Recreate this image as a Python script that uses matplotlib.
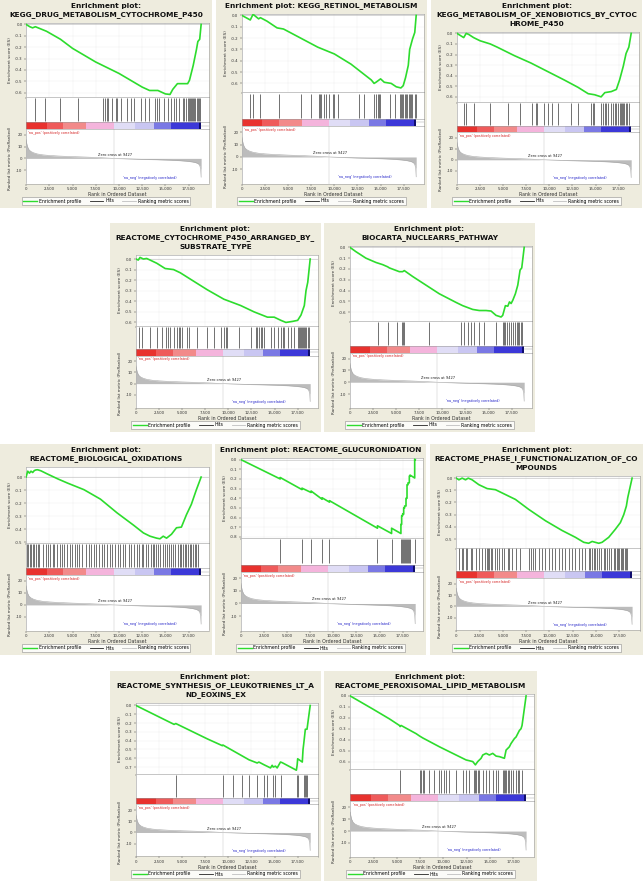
import numpy as np
import matplotlib.pyplot as plt
from matplotlib.patches import Rectangle
from matplotlib.lines import Line2D
from matplotlib.ticker import FuncFormatter, FormatStrFormatter

plt.rcParams['font.family'] = 'DejaVu Sans'
plt.rcParams['axes.unicode_minus'] = False

FIG_W, FIG_H = 643, 882
BG = '#eeecde'
N_GENES = 18854
ZERO_CROSS = 9427
X_MAX = 19750

# ranked list metric (same list for every panel)
metric_rank = [0, 60, 150, 300, 500, 800, 1200, 1800, 2500, 3500, 5000, 6500, 8000, 9427,
               11000, 12500, 14000, 15500, 16500, 17300, 17900, 18300, 18550, 18700, 18800, 18854]
metric_val = [16.0, 13.0, 10.0, 7.5, 6.0, 4.8, 3.8, 3.0, 2.5, 2.0, 1.5, 1.1, 0.6, 0.0,
              -0.4, -0.8, -1.1, -1.5, -1.9, -2.4, -3.0, -3.7, -4.6, -6.0, -9.0, -16.0]

# colour bar blocks under the hits
bar_edges = [0, 2200, 4000, 6500, 9427, 11700, 13800, 15600, 18600, 18854]
bar_colors = ['#e8322e', '#ef5b5b', '#f28a8a', '#f4b4dc', '#e0ddf6', '#c9c6f2', '#7a78e4', '#3c38d8', '#0e0c6e']

x_ticks = [0, 2500, 5000, 7500, 10000, 12500, 15000, 17500]

# ---- panel 1
p1_title = 'Enrichment plot:\nKEGG_DRUG_METABOLISM_CYTOCHROME_P450'
p1_rank = [0, 400, 700, 1000, 1900, 2200, 3700, 5000, 7500, 10000, 12500, 13300, 14200, 15000, 15500,
           15800, 16300, 17000, 17400, 17600, 18000, 18200, 18350, 18500, 18700, 18854]
p1_es = [0.0, -0.02, -0.03, -0.02, -0.05, -0.06, -0.13, -0.21, -0.33, -0.43, -0.55, -0.58, -0.58, -0.61, -0.615,
         -0.57, -0.52, -0.52, -0.52, -0.49, -0.36, -0.28, -0.22, -0.15, -0.13, 0.0]
p1_hits = [980, 2060, 3690, 5570, 8280, 8500, 8680, 8860, 9290, 9650, 9830, 10270, 10920, 11280, 11640,
           12360, 12800, 13270, 13880, 14060, 14350, 14890, 15260, 15620, 15980, 16160, 16520, 16880,
           17060, 17240, 17420, 17530, 17640, 17750, 17860, 17970, 18080, 18220, 18360, 18510, 18620, 18760]
p1_ylim = (-0.64, 0.01)

# ---- panel 2
p2_title = 'Enrichment plot: KEGG_RETINOL_METABOLISM'
p2_rank = [0, 900, 1200, 1800, 2000, 2700, 3800, 4500, 6350, 8200, 10000, 11800, 12900, 14000, 14300,
           14500, 15000, 15400, 16150, 16700, 17200, 17450, 17700, 18000, 18150, 18450, 18700, 18854]
p2_es = [0.0, -0.04, 0.01, -0.03, -0.02, -0.05, -0.11, -0.12, -0.2, -0.28, -0.34, -0.43, -0.5, -0.57, -0.6,
         -0.59, -0.56, -0.59, -0.6, -0.63, -0.64, -0.62, -0.55, -0.44, -0.3, -0.21, -0.15, 0.0]
p2_hits = [910, 1200, 2000, 3990, 6350, 7440, 8350, 8460, 8600, 8890, 9080, 9440, 9800, 9980, 10350,
           12710, 13250, 14340, 14520, 14700, 14810, 14960, 15970, 16520, 17060, 17240, 17350, 17460,
           17610, 17790, 17900, 18040, 18150, 18260, 18440, 18690, 18840]
p2_ylim = (-0.68, 0.01)

# ---- panel 3
p3_title = 'Enrichment plot:\nKEGG_METABOLISM_OF_XENOBIOTICS_BY_CYTOC\nHROME_P450'
p3_rank = [0, 730, 1000, 1270, 1800, 2500, 3600, 4350, 6200, 8000, 9800, 11600, 13100, 14200, 14900,
           15600, 16000, 16700, 17250, 17600, 18000, 18300, 18600, 18854]
p3_es = [0.0, -0.04, 0.0, -0.01, -0.04, -0.07, -0.10, -0.13, -0.21, -0.28, -0.36, -0.44, -0.51, -0.57, -0.58,
         -0.6, -0.56, -0.55, -0.53, -0.44, -0.31, -0.19, -0.13, 0.0]
p3_hits = [800, 1020, 1820, 3560, 5520, 6820, 8170, 8530, 8710, 9440, 9800, 10240, 10890, 12340, 13070,
           14520, 14770, 14880, 15610, 15790, 15970, 16150, 16340, 16700, 16880, 17060, 17240, 17420,
           17610, 17710, 17860, 17970, 18080, 18260, 18440, 18660]
p3_ylim = (-0.65, 0.01)

# ---- panel 4
p4_title = 'Enrichment plot:\nREACTOME_CYTOCHROME_P450_ARRANGED_BY_\nSUBSTRATE_TYPE'
p4_rank = [0, 250, 440, 800, 1160, 1530, 2250, 3160, 4070, 4790, 5880, 7700, 9510, 11330, 12780, 14230,
           14960, 15680, 16230, 16950, 17500, 17860, 18220, 18400, 18590, 18854]
p4_es = [0.0, -0.01, 0.015, 0.0, 0.005, -0.01, -0.04, -0.09, -0.10, -0.13, -0.19, -0.29, -0.38, -0.44, -0.50,
         -0.55, -0.55, -0.58, -0.60, -0.59, -0.58, -0.53, -0.44, -0.30, -0.22, 0.0]
p4_hits = [330, 690, 1530, 2250, 2800, 3270, 3450, 3700, 4070, 4430, 4610, 4790, 4970, 5520, 5770, 6600,
           7700, 8420, 9150, 9510, 9690, 9870, 11140, 12410, 12960, 13140, 13320, 13500, 13690, 13870,
           14590, 14960, 15320, 15680, 15860, 16040, 16410, 16770, 17130, 17500, 17600, 17710, 17860,
           17970, 18080, 18220, 18330, 18440, 18590, 18690]
p4_ylim = (-0.63, 0.035)

# ---- panel 5
p5_title = 'Enrichment plot:\nBIOCARTA_NUCLEARRS_PATHWAY'
p5_rank = [0, 650, 1730, 2820, 3540, 4080, 4260, 5340, 5700, 5880, 6790, 7870, 9670, 11480, 12200, 13280,
           14000, 14730, 15270, 15810, 16350, 16530, 16820, 17080, 17260, 17440, 17620, 17900, 18160,
           18410, 18590, 18854]
p5_es = [0.0, -0.04, -0.10, -0.14, -0.16, -0.18, -0.19, -0.225, -0.225, -0.215, -0.27, -0.33, -0.43, -0.51,
         -0.54, -0.575, -0.585, -0.585, -0.59, -0.63, -0.645, -0.63, -0.54, -0.545, -0.505, -0.52, -0.49,
         -0.43, -0.35, -0.21, -0.19, 0.0]
p5_hits = [3000, 4080, 5050, 5600, 5780, 5880, 8520, 12020, 12380, 12740, 13100, 13470, 14010, 14550,
           15810, 16530, 16710, 16820, 17000, 17260, 17440, 17620, 17870, 18050, 18190, 18340, 18480, 18630]
p5_ylim = (-0.68, 0.01)

# ---- panel 6
p6_title = 'Enrichment plot:\nREACTOME_BIOLOGICAL_OXIDATIONS'
p6_rank = [0, 100, 180, 360, 530, 710, 890, 1070, 1250, 1600, 2310, 3380, 4450, 6230, 8010, 9790, 11570,
           12640, 13350, 14060, 14420, 14770, 15130, 15660, 16200, 16730, 17270, 17800, 18160, 18330, 18854]
p6_es = [0.0, 0.025, 0.045, 0.03, 0.045, 0.035, 0.05, 0.055, 0.056, 0.048, 0.023, -0.013, -0.046, -0.097,
         -0.17, -0.275, -0.37, -0.43, -0.455, -0.47, -0.475, -0.455, -0.47, -0.44, -0.39, -0.385, -0.29,
         -0.21, -0.135, -0.10, 0.0]
p6_hits = [110, 250, 390, 530, 710, 890, 1070, 1250, 1420, 1780, 2140, 2310, 2600, 2850, 3030, 3380, 3670,
           3920, 4090, 4450, 4740, 4980, 5230, 5520, 5700, 6050, 6410, 6760, 6940, 7300, 7580, 7830, 8190,
           8440, 8720, 9080, 9260, 9610, 9860, 10150, 10430, 10680, 11040, 11290, 11570, 11930, 12210,
           12460, 12640, 12920, 13170, 13420, 13640, 13780, 13990, 14240, 14420, 14700, 14950, 15130,
           15420, 15660, 15840, 16090, 16310, 16550, 16730, 16910, 17090, 17270, 17440, 17620, 17800,
           17980, 18160, 18330, 18480]
p6_ylim = (-0.505, 0.075)

# ---- panel 7
p7_title = 'Enrichment plot: REACTOME_GLUCURONIDATION'
p7_rank = [0, 4250, 4250, 6600, 6600, 7590, 7590, 8780, 8780, 9580, 9580, 14770, 14770, 16300, 16300,
           17310, 17310, 17390, 17390, 17500, 17500, 17610, 17610, 17710, 17710, 17860, 17860, 17970,
           17970, 18080, 18080, 18220, 18220, 18300, 18300, 18800, 18800, 18854]
p7_es = [0.0, -0.20, -0.185, -0.31, -0.295, -0.34, -0.325, -0.41, -0.395, -0.44, -0.425, -0.71, -0.685,
         -0.765, -0.71, -0.765, -0.67, -0.67, -0.58, -0.58, -0.56, -0.565, -0.50, -0.50, -0.48, -0.48,
         -0.40, -0.40, -0.26, -0.26, -0.24, -0.24, -0.17, -0.17, -0.16, -0.19, 0.005, 0.0]
p7_hits = [4250, 6600, 7590, 8780, 9580, 14770, 16300, 17310, 17390, 17500, 17610, 17710, 17860, 17970,
           18080, 18220, 18300, 18800]
p7_ylim = (-0.81, 0.014)

# ---- panel 8
p8_title = 'Enrichment plot:\nREACTOME_PHASE_I_FUNCTIONALIZATION_OF_CO\nMPOUNDS'
p8_rank = [0, 290, 640, 1000, 1290, 1710, 2430, 3320, 4210, 5280, 6350, 7780, 9570, 11350, 12780, 13670,
           14200, 14570, 15280, 15640, 16350, 17060, 17600, 17960, 18240, 18390, 18854]
p8_es = [0.0, -0.014, 0.0, -0.014, 0.0, -0.014, -0.054, -0.086, -0.095, -0.135, -0.175, -0.257, -0.35,
         -0.43, -0.486, -0.527, -0.535, -0.52, -0.535, -0.527, -0.486, -0.42, -0.365, -0.30, -0.23, -0.16, 0.0]
p8_hits = [290, 570, 750, 1000, 1180, 1540, 1710, 2070, 2430, 2790, 3140, 3250, 3390, 3500, 3680, 3860,
           4140, 4390, 4640, 4930, 5110, 5530, 5640, 6000, 6430, 6890, 7780, 8070, 8210, 8500, 8850, 9210,
           9570, 9930, 10280, 10640, 11000, 11350, 11710, 12070, 12420, 12780, 13140, 13500, 13850, 14210,
           14390, 14570, 14740, 14920, 15100, 15280, 15570, 15820, 15990, 16170, 16350, 16640, 16890,
           17070, 17240, 17350, 17490, 17640, 17780, 17920, 18070, 18210, 18350]
p8_ylim = (-0.57, 0.015)

# ---- panel 9
p9_title = 'Enrichment plot:\nREACTOME_SYNTHESIS_OF_LEUKOTRIENES_LT_A\nND_EOXINS_EX'
p9_rank = [0, 4130, 4310, 7730, 9350, 9420, 12040, 12220, 13120, 13300, 13840, 14560, 14740, 14850, 15100,
           15280, 15640, 15820, 17360, 17440, 17500, 18000, 18080, 18150, 18330, 18510, 18854]
p9_es = [0.0, -0.215, -0.205, -0.38, -0.457, -0.45, -0.606, -0.617, -0.654, -0.643, -0.673, -0.71, -0.68,
         -0.70, -0.69, -0.71, -0.643, -0.65, -0.736, -0.68, -0.606, -0.643, -0.50, -0.44, -0.27, -0.27, 0.0]
p9_hits = [4310, 9420, 10530, 11430, 12220, 13120, 13840, 14200, 14810, 15100, 15710, 17440, 17580, 18150,
           18260, 18370, 18510]
p9_ylim = (-0.78, 0.025)

# ---- panel 10
p10_title = 'Enrichment plot:\nREACTOME_PEROXISOMAL_LIPID_METABOLISM'
p10_rank = [0, 2430, 4210, 5280, 5350, 5460, 7070, 7430, 7780, 9570, 11350, 12420, 13140, 13420, 13670,
            14030, 14210, 14570, 14920, 15280, 15640, 16000, 16530, 16710, 17060, 17240, 17600, 17780,
            17960, 18140, 18310, 18420, 18854]
p10_es = [0.0, -0.12, -0.21, -0.27, -0.28, -0.27, -0.345, -0.366, -0.384, -0.465, -0.54, -0.585, -0.60,
          -0.63, -0.60, -0.57, -0.54, -0.525, -0.54, -0.525, -0.55, -0.555, -0.57, -0.495, -0.465, -0.435,
          -0.39, -0.375, -0.345, -0.315, -0.30, -0.27, 0.0]
p10_hits = [5360, 7430, 7600, 7780, 7960, 8500, 9030, 9570, 9750, 10100, 10280, 10640, 11350, 12070,
            12420, 12780, 13320, 13420, 13500, 13670, 13850, 14210, 14570, 14920, 15280, 15640, 15890,
            16350, 16530, 16640, 16710, 16890, 17070, 17240, 17420, 17780, 17960, 18140, 18420]
p10_ylim = (-0.67, 0.015)

# panel boxes in pixels: left, top, width, height
panels = [
    ((0, 0, 212, 208), p1_title, p1_rank, p1_es, p1_hits, p1_ylim),
    ((216, 0, 211, 208), p2_title, p2_rank, p2_es, p2_hits, p2_ylim),
    ((431, 0, 211, 208), p3_title, p3_rank, p3_es, p3_hits, p3_ylim),
    ((110, 223, 211, 209), p4_title, p4_rank, p4_es, p4_hits, p4_ylim),
    ((324, 223, 211, 209), p5_title, p5_rank, p5_es, p5_hits, p5_ylim),
    ((0, 444, 212, 211), p6_title, p6_rank, p6_es, p6_hits, p6_ylim),
    ((215, 444, 211, 211), p7_title, p7_rank, p7_es, p7_hits, p7_ylim),
    ((430, 444, 213, 211), p8_title, p8_rank, p8_es, p8_hits, p8_ylim),
    ((110, 671, 211, 210), p9_title, p9_rank, p9_es, p9_hits, p9_ylim),
    ((324, 671, 213, 210), p10_title, p10_rank, p10_es, p10_hits, p10_ylim),
]

fig = plt.figure(figsize=(FIG_W / 100, FIG_H / 100), dpi=100)
fig.patch.set_facecolor('white')


def fxy(px, py):
    return px / FIG_W, 1 - py / FIG_H


def add_ax(l, t, w, h):
    return fig.add_axes([l / FIG_W, 1 - (t + h) / FIG_H, w / FIG_W, h / FIG_H])


def style_ax(ax):
    for s in ax.spines.values():
        s.set_color('#9a9a9a')
        s.set_linewidth(0.4)
    ax.tick_params(length=1.5, width=0.3, pad=1, labelsize=2.8, colors='#333333')


def draw_panel(rect, title, es_rank, es_val, hits, ylim):
    left, top, w, h = rect
    fig.patches.append(Rectangle(fxy(left, top + h), w / FIG_W, h / FIG_H, transform=fig.transFigure,
                                 facecolor=BG, edgecolor='none', zorder=-10))
    lines = title.split('\n')
    for i, line in enumerate(lines):
        fig.text(*fxy(left + w / 2, top + 5.6 + 9.0 * i), line, ha='center', va='center',
                 fontsize=5.3, fontweight='bold', color='#111111')

    x0 = left + 0.123 * w
    x1 = left + 0.988 * w
    y_es = top + 5.3 + 9.0 * len(lines)
    y_end = top + h - 24.5
    total = y_end - y_es
    h_es = 0.462 * total
    h_hit = 0.155 * total
    h_bar = 0.043 * total
    h_met = total - h_es - h_hit - h_bar

    # running enrichment score
    ax = add_ax(x0, y_es, x1 - x0, h_es)
    ax.plot(es_rank, es_val, color='#2ddc2d', lw=1.2, zorder=3)
    ax.axhline(0, color='#bdbdbd', lw=0.4, zorder=1)
    ax.set_xlim(0, X_MAX)
    ax.set_ylim(*ylim)
    ticks = np.round(np.arange(0, ylim[0] - 1e-9, -0.1), 1)
    ax.set_yticks(ticks)
    ax.yaxis.set_major_formatter(FormatStrFormatter('%.1f'))
    ax.set_xticks(x_ticks)
    ax.tick_params(axis='x', labelbottom=False, length=0)
    ax.grid(True, color='#ececec', lw=0.3)
    ax.set_axisbelow(True)
    style_ax(ax)
    fig.text(*fxy(left + 0.047 * w, y_es + h_es / 2), 'Enrichment score (ES)', rotation=90,
             ha='center', va='center', fontsize=3.0, color='#333333')

    # hits
    axh = add_ax(x0, y_es + h_es, x1 - x0, h_hit)
    axh.vlines(hits, 0.04, 0.96, color='#222222', lw=0.45)
    axh.set_xlim(0, X_MAX)
    axh.set_ylim(0, 1)
    axh.set_xticks([])
    axh.set_yticks([])
    style_ax(axh)

    # colour bar
    axb = add_ax(x0, y_es + h_es + h_hit, x1 - x0, h_bar)
    for a, b, c in zip(bar_edges[:-1], bar_edges[1:], bar_colors):
        axb.add_patch(Rectangle((a, 0), b - a, 1, facecolor=c, edgecolor='none'))
    axb.axhline(0.5, xmin=N_GENES / X_MAX, color='#9a9a9a', lw=0.3)
    axb.set_xlim(0, X_MAX)
    axb.set_ylim(0, 1)
    axb.set_xticks([])
    axb.set_yticks([])
    style_ax(axb)

    # ranked list metric
    axm = add_ax(x0, y_es + h_es + h_hit + h_bar, x1 - x0, h_met)
    axm.fill_between(metric_rank, 0, metric_val, color='#bcbcbc', lw=0)
    axm.plot(metric_rank, metric_val, color='#a8a8a8', lw=0.4)
    axm.axvline(ZERO_CROSS, color='#c8c8c8', lw=0.35)
    axm.set_xlim(0, X_MAX)
    axm.set_ylim(-21.4, 25)
    axm.set_yticks([20, 10, 0, -10])
    axm.set_xticks(x_ticks)
    axm.xaxis.set_major_formatter(FuncFormatter(lambda v, p: '{:,}'.format(int(v))))
    style_ax(axm)
    axm.text(250, 23.5, "'na_pos' (positively correlated)", color='#d42020', fontsize=2.4,
             ha='left', va='top')
    axm.text(ZERO_CROSS + 100, 3.3, 'Zero cross at 9427', color='#222222', fontsize=2.6,
             ha='center', va='center')
    axm.text(13300, -16.3, "'na_neg' (negatively correlated)", color='#2020c8', fontsize=2.4,
             ha='center', va='center')
    axm.set_xlabel('Rank in Ordered Dataset', fontsize=3.4, labelpad=1, color='#333333')
    fig.text(*fxy(left + 0.047 * w, y_end - h_met / 2 + 2), 'Ranked list metric (PreRanked)', rotation=90,
             ha='center', va='center', fontsize=3.0, color='#333333')

    handles = [Line2D([], [], color='#2ddc2d', lw=1.0),
               Line2D([], [], color='#222222', lw=0.6),
               Line2D([], [], color='#c0c0c0', lw=0.6)]
    leg = fig.legend(handles, ['Enrichment profile', 'Hits', 'Ranking metric scores'],
                     loc='center', bbox_to_anchor=fxy(left + w / 2, top + h - 7.0), ncol=3,
                     fontsize=3.3, frameon=True, fancybox=False, handlelength=3.0,
                     handletextpad=0.4, columnspacing=1.8, borderpad=0.35)
    leg.get_frame().set_edgecolor('#777777')
    leg.get_frame().set_linewidth(0.4)


for p in panels:
    draw_panel(*p)

fig.savefig('out.png', dpi=100, facecolor='white')
